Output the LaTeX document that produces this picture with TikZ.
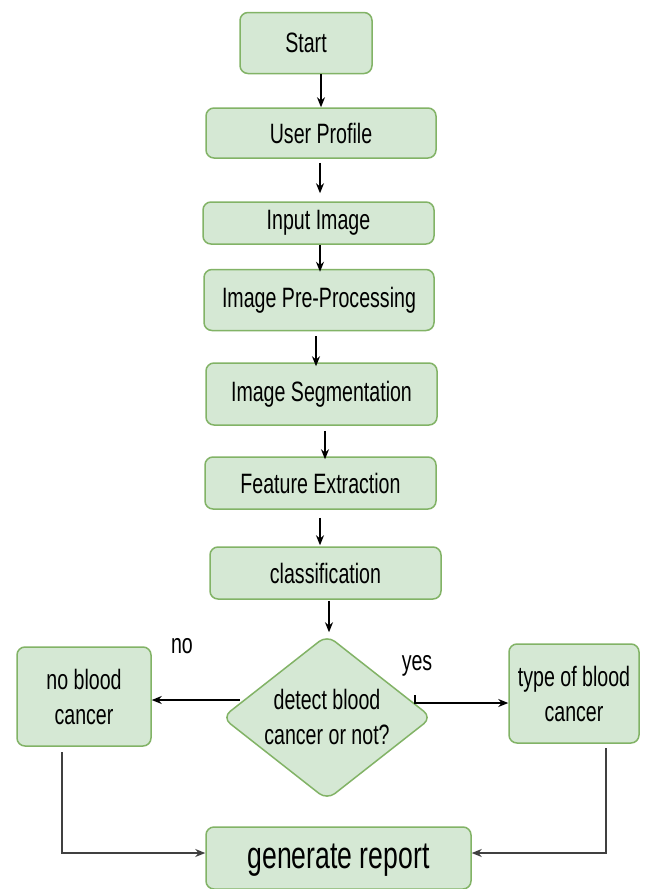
\documentclass[tikz,border=0pt]{standalone}
\usepackage{fontspec}
\setmainfont{Liberation Sans}[FakeStretch=0.7]
\usetikzlibrary{shapes.geometric,arrows.meta}
\definecolor{boxfill}{HTML}{D5E8D4}
\definecolor{boxline}{HTML}{82B366}
\tikzset{
  stepbox/.style={draw=boxline,fill=boxfill,line width=1.5pt,rounded corners=8pt,inner sep=0pt,font=\fontsize{28}{35}\selectfont,align=center},
  arr/.style={draw=black,line width=1.3pt,-{Stealth[length=10pt,width=8pt]}},
  arrg/.style={draw=black!75,line width=1.6pt,-{Stealth[length=10pt,width=8pt]}},
  lbl/.style={font=\fontsize{28}{35}\selectfont,inner sep=0pt}
}
\begin{document}
\begin{tikzpicture}[x=1pt,y=-1pt]
\clip (0,0) rectangle (647,889);
\fill[white] (0,0) rectangle (647,889);
\node[stepbox,minimum width=132,minimum height=61] (start) at (306,43) {Start};
\node[stepbox,minimum width=230,minimum height=50] (user) at (321,133) {User Profile};
\node[stepbox,minimum width=231,minimum height=42] (input) at (318.5,223) {Input Image};
\node[stepbox,minimum width=230,minimum height=61] (pre) at (319,300) {Image Pre-Processing};
\node[stepbox,minimum width=231,minimum height=62] (seg) at (321.5,394) {Image Segmentation};
\node[stepbox,minimum width=231,minimum height=52] (feat) at (320.5,483) {Feature Extraction};
\node[stepbox,minimum width=231,minimum height=52] (cls) at (325.5,573) {classification};
\node[stepbox,shape=diamond,minimum width=210,minimum height=165,rounded corners=10pt] (dia) at (327,717.5) {};
\node[lbl,align=center] (diatext) at (327,717) {detect blood\\cancer or not?};
\node[stepbox,minimum width=134,minimum height=99] (no) at (84,696.5) {no blood\\cancer};
\node[stepbox,minimum width=130,minimum height=99] (type) at (574,693.5) {type of blood\\cancer};
\node[stepbox,minimum width=265,minimum height=62] (gen) at (338.5,858) {};
\node[font=\fontsize{38}{44}\selectfont,inner sep=0pt] (gentext) at (338.5,860) {generate report};
\node[lbl] (nolbl) at (182,646) {no};
\node[lbl] (yeslbl) at (417,666) {yes};
% vertical arrows
\draw[arr] (start.south -| user.north) -- (user.north);
\draw[arr] ([yshift=-4]user.south -| 320,0) -- ([yshift=8]input.north -| 320,0);
\draw[arr] (input.south -| 320,0) -- ([yshift=-3]pre.north -| 320,0);
\draw[arr] ([yshift=-5]pre.south -| 316,0) -- ([yshift=-4]seg.north -| 316,0);
\draw[arr] ([yshift=-5]seg.south -| 325,0) -- ([yshift=-3]feat.north -| 325,0);
\draw[arr] ([yshift=-8]feat.south -| 320,0) -- ([yshift=1]cls.north -| 320,0);
\draw[arr] ([yshift=-1]cls.south -| 329,0) -- ([yshift=2]dia.north -| 329,0);
% decision branches
\coordinate (nostart) at (240,700);
\draw[arr] (nostart) -- (nostart -| no.east);
\coordinate (yesstart) at (415,695);
\coordinate (yesturn) at (415,703);
\draw[arr] (yesstart) -- (yesturn) -- (yesturn -| type.west);
% to report
\coordinate (nodown) at (62,752);
\coordinate (typedown) at (606,748);
\draw[arrg] (nodown) |- ([yshift=5]gen.west);
\draw[arrg] (typedown) |- ([yshift=5]gen.east);
\end{tikzpicture}
\end{document}
